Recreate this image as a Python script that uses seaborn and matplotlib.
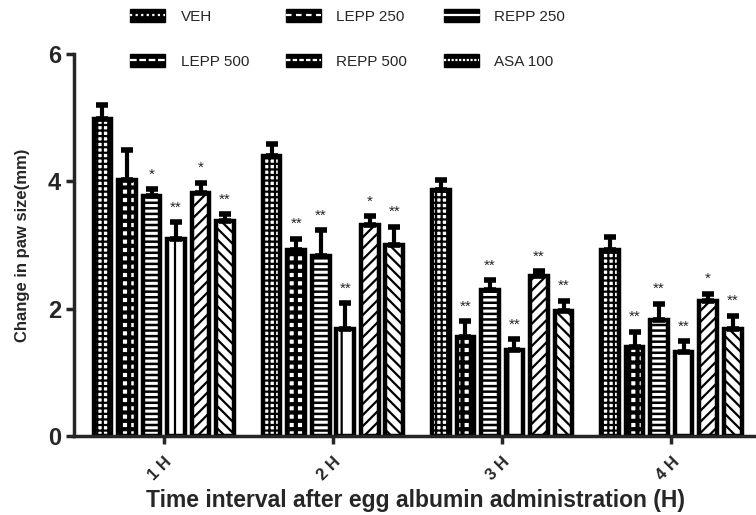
import pandas as pd
import matplotlib.pyplot as plt
import seaborn as sns
from matplotlib.patches import Patch
from matplotlib.lines import Line2D
from matplotlib.legend_handler import HandlerTuple

# Data
times = ['1 H', '2 H', '3 H', '4 H']
groups = ['VEH', 'LEPP 250', 'REPP 250', 'LEPP 500', 'REPP 500', 'ASA 100']
veh = [4.98, 4.40, 3.86, 2.93]
lepp250 = [4.03, 2.93, 1.56, 1.40]
repp250 = [3.77, 2.83, 2.29, 1.83]
lepp500 = [3.10, 1.69, 1.36, 1.32]
repp500 = [3.82, 3.31, 2.52, 2.13]
asa100 = [3.38, 3.00, 1.96, 1.69]
veh_err = [0.22, 0.19, 0.16, 0.19]
lepp250_err = [0.46, 0.17, 0.25, 0.24]
repp250_err = [0.11, 0.40, 0.16, 0.25]
lepp500_err = [0.26, 0.40, 0.16, 0.17]
repp500_err = [0.16, 0.14, 0.07, 0.11]
asa100_err = [0.11, 0.29, 0.17, 0.20]
veh_sig = ['', '', '', '']
lepp250_sig = ['', '**', '**', '**']
repp250_sig = ['*', '**', '**', '**']
lepp500_sig = ['**', '**', '**', '**']
repp500_sig = ['*', '*', '**', '*']
asa100_sig = ['**', '**', '**', '**']

means = [veh, lepp250, repp250, lepp500, repp500, asa100]
errs = [veh_err, lepp250_err, repp250_err, lepp500_err, repp500_err, asa100_err]
sigs = [veh_sig, lepp250_sig, repp250_sig, lepp500_sig, repp500_sig, asa100_sig]
hatches = ['+++', '++', '---', '|', '///', '\\\\\\']
hatch_lw = [1.6, 3.0, 1.8, 1.6, 1.6, 1.6]
legend_dash = [(0, (1, 1.5)), (0, (2.5, 2)), '-', (0, (3, 1.2)),
               (0, (2, 1)), (0, (1, 0.7))]

rows = []
for g, vals in zip(groups, means):
    for t, v in zip(times, vals):
        rows.append({'time': t, 'group': g, 'value': v})
df = pd.DataFrame(rows)

sns.set_style('ticks')
plt.rcParams['font.family'] = ['Liberation Sans', 'DejaVu Sans']
plt.rcParams['hatch.linewidth'] = 1.6

fig = plt.figure(figsize=(7.56, 5.15), dpi=100)
ax = fig.add_axes([0.098, 0.153, 0.902, 0.742])

sns.barplot(data=df, x='time', y='value', hue='group', hue_order=groups,
            order=times, palette=['white'] * 6, errorbar=None,
            width=0.87, gap=0.28, edgecolor='black', linewidth=3.2,
            legend=False, ax=ax)

for cont, h, hl, e, s in zip(ax.containers, hatches, hatch_lw, errs, sigs):
    xs = []
    ys = []
    for bar in cont:
        bar.set_hatch(h)
        bar.set_edgecolor('black')
        if hasattr(bar, 'set_hatch_linewidth'):
            bar.set_hatch_linewidth(hl)
        xs.append(bar.get_x() + bar.get_width() / 2)
        ys.append(bar.get_height())
    ax.errorbar(xs, ys, yerr=[[0] * len(e), e], fmt='none', ecolor='black',
                elinewidth=3, capsize=4, capthick=4, zorder=1)
    for x, y, err, star in zip(xs, ys, e, s):
        if star:
            ax.text(x, y + err + 0.12, star, ha='center', va='bottom',
                    fontsize=11)

ax.set_ylim(0, 6)
ax.set_xlim(-0.53, 3.5)
ax.set_yticks([0, 2, 4, 6])
ax.set_yticklabels(['0', '2', '4', '6'], fontsize=17, fontweight='bold')
ax.set_xticks(range(4))
ax.set_xticklabels(times, rotation=45, fontsize=12, fontweight='bold',
                   ha='right', va='top', rotation_mode='anchor')
ax.set_xlabel('Time interval after egg albumin administration (H)',
              fontsize=16.5, fontweight='bold', labelpad=4)
ax.set_ylabel('Change in paw size(mm)', fontsize=12, fontweight='bold',
              labelpad=13)
ax.tick_params(axis='both', width=2.5, length=6, direction='out')
ax.tick_params(axis='x', pad=7)
for side in ['left', 'bottom']:
    ax.spines[side].set_linewidth(2.5)
sns.despine(ax=ax)

# Legend: black boxes with a white dashed stroke inside
handles = [(Patch(facecolor='black', edgecolor='black', linewidth=1),
            Line2D([], [], color='white', linestyle=ls, linewidth=1.6))
           for ls in legend_dash]
order = [0, 3, 1, 4, 2, 5]
fig.legend([handles[i] for i in order], [groups[i] for i in order],
           handler_map={tuple: HandlerTuple(ndivide=1, pad=0)},
           ncol=3, loc='upper left', bbox_to_anchor=(0.164, 0.994),
           borderaxespad=0, frameon=False, fontsize=11, handlelength=2.3,
           handleheight=0.9, columnspacing=2.4, labelspacing=2.0,
           handletextpad=1.0)

fig.savefig('out.png', dpi=100)
